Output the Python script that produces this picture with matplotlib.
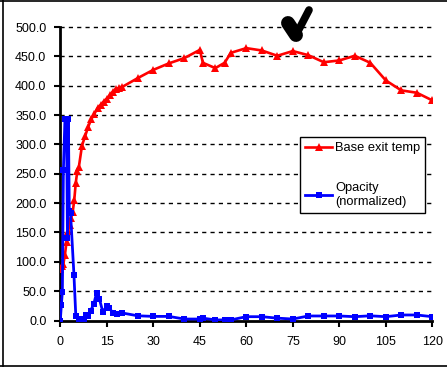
import matplotlib
matplotlib.use("Agg")
import matplotlib.pyplot as plt
from matplotlib.lines import Line2D

plt.rcParams['font.family'] = ['Liberation Sans', 'DejaVu Sans']

# Base exit temp (red, triangles)
temp_x = [0, 0.5, 1, 1.5, 2, 2.5, 3, 3.5, 4, 4.5, 5, 5.5, 6, 7, 8, 9, 10, 11, 12, 13,
          14, 15, 16, 17, 18, 19, 20, 25, 30, 35, 40, 45, 46, 50, 53, 55, 60, 65, 70,
          75, 80, 85, 90, 95, 100, 105, 110, 115, 120]
temp_y = [88, 92, 97, 112, 134, 152, 162, 175, 185, 205, 235, 255, 262, 298, 314, 330,
          343, 352, 362, 367, 373, 378, 384, 390, 395, 396, 398, 413, 427, 438, 447, 461,
          439, 430, 439, 456, 464, 460, 451, 459, 452, 440, 443, 451, 439, 409, 392, 388, 375]

# Opacity (normalized) (blue, squares)
opac_x = [0, 0.33, 0.67, 1.0, 1.5, 2.0, 2.3, 2.6, 2.9, 3.3, 4.4, 5.0, 6.0, 6.7, 7.5,
          8.2, 9.0, 9.8, 10.8, 11.7, 12.6, 13.7, 15, 15.8, 17, 18.2, 19.8, 25, 30, 35,
          40, 45, 46, 50, 53, 55, 60, 65, 70, 75, 80, 85, 90, 95, 100, 105, 110, 115, 120]
opac_y = [0, 26, 49, 257, 344, 344, 140, 344, 186, 183, 78, 8, 3, 3, 3,
          10, 8, 17, 28, 47, 37, 15, 24, 21, 13, 11, 13, 8, 7, 7,
          2.5, 2.5, 4, 1, 1, 1, 6.5, 6.5, 4, 2.5, 7.7, 7.7, 7.7, 6.5, 8, 6.5, 9.4, 9.4, 6.5]

x_ticks = [0, 15, 30, 45, 60, 75, 90, 105, 120]
y_ticks = [0, 50, 100, 150, 200, 250, 300, 350, 400, 450, 500]

W, H = 447, 368
fig = plt.figure(figsize=(W / 100, H / 100), dpi=100)
ax = fig.add_axes([60.3 / W, 1 - 320.5 / H, (432.3 - 60.3) / W, (320.5 - 27) / H])

ax.plot(temp_x, temp_y, color='#FF0000', lw=1.9, marker='^', ms=6,
        markeredgewidth=0, label='Base exit temp', zorder=3)
ax.plot(opac_x, opac_y, color='#0000FF', lw=2.0, marker='s', ms=5,
        markeredgewidth=0, label='Opacity\n(normalized)', zorder=4)

ax.set_xlim(0, 120)
ax.set_ylim(0, 500)
ax.set_xticks(x_ticks)
ax.set_yticks(y_ticks)
ax.set_yticklabels([f"{v:.1f}" for v in y_ticks])
ax.tick_params(axis='both', direction='out', length=4, width=1.5, labelsize=9,
               colors='black')
ax.tick_params(axis='y', pad=6)
ax.tick_params(axis='x', pad=7)

for v in y_ticks[1:]:
    ax.plot([0, 119.5], [v, v], color='black', lw=1, ls=(0, (3, 3)), zorder=1,
            clip_on=False)

ax.spines['top'].set_visible(False)
ax.spines['right'].set_visible(False)
ax.spines['left'].set_linewidth(2)
ax.spines['bottom'].set_linewidth(2)

leg = ax.legend(loc='upper left', bbox_to_anchor=(300 / W, 1 - 137 / H),
                bbox_transform=fig.transFigure, fancybox=False, framealpha=1,
                edgecolor='black', fontsize=9.3, handlelength=2.1, borderpad=0.4,
                labelspacing=2.15, handletextpad=0.2, borderaxespad=0)
leg.get_frame().set_linewidth(1)
leg.set_zorder(10)

# checkmark annotation (hand-drawn tick)
fig.add_artist(Line2D([288 / W, 296 / W], [1 - 23 / H, 1 - 35 / H], color='black',
                      lw=10, solid_capstyle='round'))
fig.add_artist(Line2D([296 / W, 309 / W], [1 - 35 / H, 1 - 10 / H], color='black',
                      lw=5.5, solid_capstyle='round'))

# outer border lines
fig.add_artist(Line2D([0, 1], [1 - 0.5 / H, 1 - 0.5 / H], color='black', lw=1.2))
fig.add_artist(Line2D([0, 1], [1 - 365.5 / H, 1 - 365.5 / H], color='black', lw=1.2))
fig.add_artist(Line2D([2.5 / W, 2.5 / W], [1 - 365.5 / H, 1], color='black', lw=1.2))

fig.savefig('out.png', dpi=100)
